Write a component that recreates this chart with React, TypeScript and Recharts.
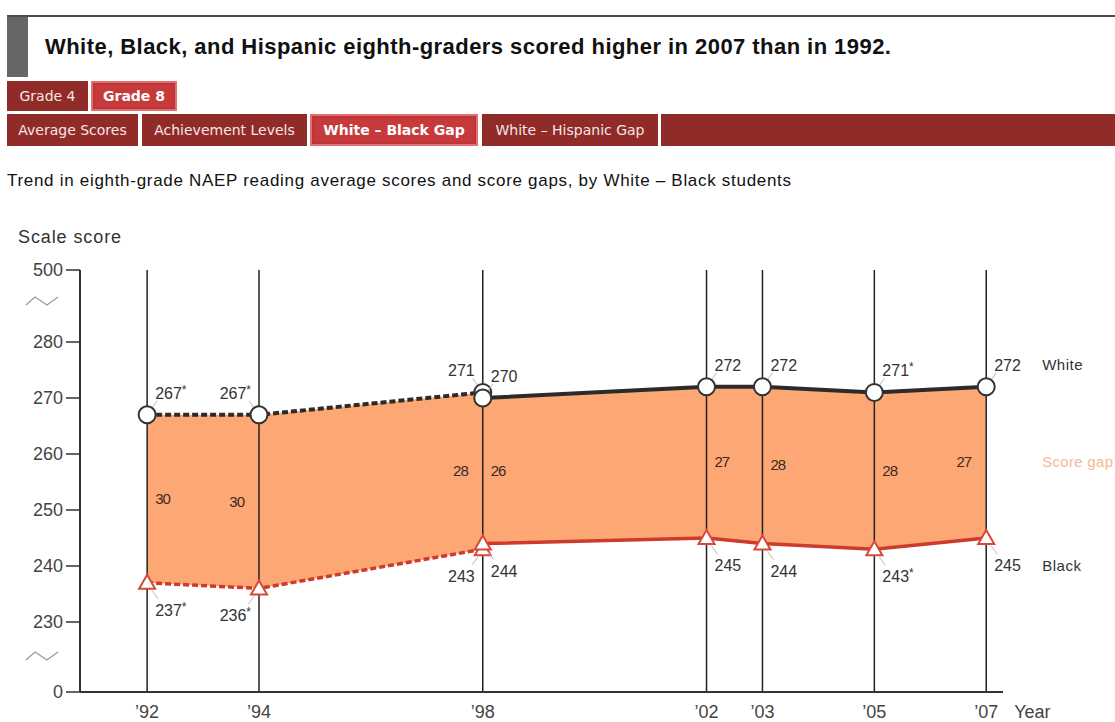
import { ComposedChart, Area, Line, XAxis, YAxis, ReferenceLine } from 'recharts'

// 1992–1998: accommodations not permitted (dashed); 1998–2007: accommodations permitted (solid)
const YEARS_EARLY = [1992, 1994, 1998]
const WHITE_EARLY = [267, 267, 271]
const BLACK_EARLY = [237, 236, 243]
const GAP_EARLY = [30, 30, 28]
const WHITE_SIG_EARLY = [true, true, false]
const BLACK_SIG_EARLY = [true, true, false]

const YEARS_LATE = [1998, 2002, 2003, 2005, 2007]
const WHITE_LATE = [270, 272, 272, 271, 272]
const BLACK_LATE = [244, 245, 244, 243, 245]
const GAP_LATE = [26, 27, 28, 28, 27]
const WHITE_SIG_LATE = [false, false, false, true, false]
const BLACK_SIG_LATE = [false, false, false, true, false]

const TICK_YEARS = [1992, 1994, 1998, 2002, 2003, 2005, 2007]

// broken axis: the two end ticks stand in for 0 and 500
const Y_BOTTOM = 217.5
const Y_TOP = 292.86
const Y_TICKS = [Y_BOTTOM, 230, 240, 250, 260, 270, 280, Y_TOP]

const FONT = '"Liberation Sans", Arial, sans-serif'
const TAB_FONT = '"DejaVu Sans", Verdana, sans-serif'
const AREA_FILL = '#fda775'
const WHITE_STROKE = '#2b2b2b'
const BLACK_STROKE = '#cc3b2b'

type Side = 'left' | 'right'
const WHITE_SIDE_EARLY: Side[] = ['right', 'left', 'left']
const BLACK_SIDE_EARLY: Side[] = ['right', 'left', 'left']
const GAP_SIDE_EARLY: Side[] = ['right', 'left', 'left']
const WHITE_SIDE_LATE: Side[] = ['right', 'right', 'right', 'right', 'right']
const BLACK_SIDE_LATE: Side[] = ['right', 'right', 'right', 'right', 'right']
const GAP_SIDE_LATE: Side[] = ['right', 'right', 'right', 'right', 'left']

const build = (years: number[], white: number[], black: number[], gap: number[]) =>
  years.map((year, i) => ({ year, white: white[i], black: black[i], gap: gap[i], mid: (white[i] + black[i]) / 2 }))

const early = build(YEARS_EARLY, WHITE_EARLY, BLACK_EARLY, GAP_EARLY)
const late = build(YEARS_LATE, WHITE_LATE, BLACK_LATE, GAP_LATE)

function ValueText({ x, y, value, sig, anchor }: { x: number; y: number; value: number; sig: boolean; anchor: 'start' | 'end' }) {
  return (
    <text x={x} y={y} textAnchor={anchor} fontFamily={FONT} fontSize={16} fill="#333">
      {value}
      {sig && <tspan fontSize={12} dy={-5}>*</tspan>}
    </text>
  )
}

const whiteDot = (sides: Side[], sig: boolean[], last: boolean) => (props: any) => {
  const { cx, cy, index, payload } = props
  const dir = sides[index] === 'right' ? 1 : -1
  return (
    <g key={`w-${payload.year}-${index}`}>
      <line x1={cx + 5 * dir} y1={cy - 7} x2={cx + 10 * dir} y2={cy - 14} stroke="#b8b8b8" strokeWidth={1} />
      <circle cx={cx} cy={cy} r={8.5} fill="#fff" stroke="#333" strokeWidth={2} />
      <ValueText x={cx + 8 * dir} y={cy - 16} value={payload.white} sig={sig[index]} anchor={dir > 0 ? 'start' : 'end'} />
      {last && index === sides.length - 1 && (
        <text x={cx + 56} y={cy - 17} fontFamily={FONT} fontSize={15} fill="#333" letterSpacing={0.5}>White</text>
      )}
    </g>
  )
}

const blackDot = (sides: Side[], sig: boolean[], last: boolean) => (props: any) => {
  const { cx, cy, index, payload } = props
  const dir = sides[index] === 'right' ? 1 : -1
  return (
    <g key={`b-${payload.year}-${index}`}>
      <line x1={cx + 5 * dir} y1={cy + 8} x2={cx + 11 * dir} y2={cy + 16} stroke="#b8b8b8" strokeWidth={1} />
      <polygon
        points={`${cx},${cy - 8} ${cx - 8},${cy + 6} ${cx + 8},${cy + 6}`}
        fill="#fff"
        stroke="#d9473b"
        strokeWidth={2}
      />
      <ValueText x={cx + 8 * dir} y={cy + 33} value={payload.black} sig={sig[index]} anchor={dir > 0 ? 'start' : 'end'} />
      {last && index === sides.length - 1 && (
        <text x={cx + 56} y={cy + 33} fontFamily={FONT} fontSize={15} fill="#333" letterSpacing={0.5}>Black</text>
      )}
    </g>
  )
}

const gapDot = (sides: Side[], last: boolean) => (props: any) => {
  const { cx, cy, index, payload } = props
  const right = sides[index] === 'right'
  return (
    <g key={`g-${payload.year}-${index}`}>
      <text
        x={right ? cx + 8 : cx - 15}
        y={cy + 5}
        textAnchor={right ? 'start' : 'end'}
        fontFamily={FONT}
        fontSize={15}
        fill="#3a2a22"
        letterSpacing={-1}
      >
        {payload.gap}
      </text>
      {last && index === sides.length - 1 && (
        <text x={cx + 56} y={cy + 5} fontFamily={FONT} fontSize={15} fill="#f6b797" letterSpacing={0.3}>Score gap</text>
      )}
    </g>
  )
}

function ScoreTick({ x, y, payload }: any) {
  const v = payload.value
  const label = v === Y_BOTTOM ? '0' : v === Y_TOP ? '500' : String(v)
  const zig = (dy: number) => (
    <path
      d={`M${x - 37},${y + dy + 5} L${x - 28},${y + dy - 3} L${x - 16},${y + dy + 5} L${x - 5},${y + dy - 3}`}
      fill="none"
      stroke="#9a9a9a"
      strokeWidth={1.2}
    />
  )
  return (
    <g>
      <text x={x} y={y} dy={6} textAnchor="end" fontFamily={FONT} fontSize={18} fill="#444">{label}</text>
      {v === 280 && zig(-42)}
      {v === 230 && zig(33)}
    </g>
  )
}

function YearTick({ x, y, payload }: any) {
  const yr = payload.value as number
  return (
    <g>
      <text x={x} y={y} dy={26} textAnchor="middle" fontFamily={FONT} fontSize={18} fill="#444">
        {'\u2019' + String(yr).slice(2)}
      </text>
      {yr === TICK_YEARS[TICK_YEARS.length - 1] && (
        <text x={x + 28} y={y} dy={26} fontFamily={FONT} fontSize={18} fill="#444">Year</text>
      )}
    </g>
  )
}

function Tab({ left, top, width, height, label, active }: { left: number; top: number; width: number; height: number; label: string; active?: boolean }) {
  return (
    <div
      style={{
        position: 'absolute', left, top, width, height, boxSizing: 'border-box',
        backgroundColor: active ? '#c63a3c' : '#912b28',
        border: active ? '2px solid #e27070' : 'none',
        boxShadow: active ? 'inset 0 0 3px #a82a2c' : 'none',
        color: active ? '#fff' : '#f4e6e6',
        fontFamily: TAB_FONT, fontSize: 14, fontWeight: active ? 700 : 400,
        display: 'flex', alignItems: 'center', justifyContent: 'center', whiteSpace: 'nowrap',
      }}
    >
      {label}
    </div>
  )
}

export default function App() {
  return (
    <div style={{ position: 'absolute', left: 0, top: 0, width: 1115, height: 722, overflow: 'hidden', background: '#fff', fontFamily: FONT }}>
      <div style={{ position: 'absolute', left: 0, top: 0 }}>
        <ComposedChart width={1115} height={722} margin={{ top: 270, right: 112, bottom: 0, left: 0 }}>
          <XAxis
            type="number"
            dataKey="year"
            domain={[1990.8, 2007.3]}
            ticks={TICK_YEARS}
            height={30}
            tickLine={false}
            tickSize={0}
            tickMargin={0}
            tick={<YearTick />}
            axisLine={{ stroke: '#333', strokeWidth: 2 }}
          />
          <YAxis
            type="number"
            domain={[Y_BOTTOM, Y_TOP]}
            ticks={Y_TICKS}
            width={80}
            tickSize={14}
            tickMargin={3}
            tick={<ScoreTick />}
            tickLine={{ stroke: '#333', strokeWidth: 1.5 }}
            axisLine={{ stroke: '#333', strokeWidth: 2 }}
          />
          <Area data={early} dataKey={(d: any) => [d.black, d.white]} type="linear" stroke="none" fill={AREA_FILL} fillOpacity={1} isAnimationActive={false} />
          <Area data={late} dataKey={(d: any) => [d.black, d.white]} type="linear" stroke="none" fill={AREA_FILL} fillOpacity={1} isAnimationActive={false} />
          {TICK_YEARS.map((yr) => (
            <ReferenceLine key={yr} x={yr} stroke="#222" strokeWidth={1.5} />
          ))}
          <Line data={early} dataKey="mid" stroke="none" dot={gapDot(GAP_SIDE_EARLY, false)} activeDot={false} isAnimationActive={false} />
          <Line data={late} dataKey="mid" stroke="none" dot={gapDot(GAP_SIDE_LATE, true)} activeDot={false} isAnimationActive={false} />
          <Line data={early} dataKey="black" type="linear" stroke={BLACK_STROKE} strokeWidth={3.5} strokeDasharray="6 3" dot={blackDot(BLACK_SIDE_EARLY, BLACK_SIG_EARLY, false)} activeDot={false} isAnimationActive={false} />
          <Line data={early} dataKey="white" type="linear" stroke={WHITE_STROKE} strokeWidth={4} strokeDasharray="6 3" dot={whiteDot(WHITE_SIDE_EARLY, WHITE_SIG_EARLY, false)} activeDot={false} isAnimationActive={false} />
          <Line data={late} dataKey="black" type="linear" stroke={BLACK_STROKE} strokeWidth={3.5} dot={blackDot(BLACK_SIDE_LATE, BLACK_SIG_LATE, true)} activeDot={false} isAnimationActive={false} />
          <Line data={late} dataKey="white" type="linear" stroke={WHITE_STROKE} strokeWidth={4} dot={whiteDot(WHITE_SIDE_LATE, WHITE_SIG_LATE, true)} activeDot={false} isAnimationActive={false} />
        </ComposedChart>
      </div>

      {/* page header */}
      <div style={{ position: 'absolute', left: 7, top: 15, width: 1108, height: 2, background: '#4d4d4d' }} />
      <div style={{ position: 'absolute', left: 7, top: 17, width: 21, height: 60, background: '#666' }} />
      <div style={{ position: 'absolute', left: 45, top: 33, fontSize: 22, fontWeight: 700, color: '#111', lineHeight: '28px', letterSpacing: 0.45, whiteSpace: 'nowrap' }}>
        White, Black, and Hispanic eighth-graders scored higher in 2007 than in 1992.
      </div>

      <Tab left={7} top={81} width={81} height={30} label="Grade 4" />
      <Tab left={91} top={81} width={86} height={30} label="Grade 8" active />

      <Tab left={7} top={114} width={131} height={32} label="Average Scores" />
      <Tab left={142} top={114} width={165} height={32} label="Achievement Levels" />
      <Tab left={310} top={114} width={168} height={32} label="White – Black Gap" active />
      <Tab left={482} top={114} width={176} height={32} label="White – Hispanic Gap" />
      <div style={{ position: 'absolute', left: 661, top: 114, width: 454, height: 32, background: '#912b28' }} />

      <div style={{ position: 'absolute', left: 7, top: 170, fontSize: 17, color: '#111', lineHeight: '22px', letterSpacing: 0.7, whiteSpace: 'nowrap' }}>
        Trend in eighth-grade NAEP reading average scores and score gaps, by White – Black students
      </div>
      <div style={{ position: 'absolute', left: 18, top: 226, fontSize: 18, color: '#333', lineHeight: '22px', whiteSpace: 'nowrap', letterSpacing: 0.9 }}>
        Scale score
      </div>
    </div>
  )
}
